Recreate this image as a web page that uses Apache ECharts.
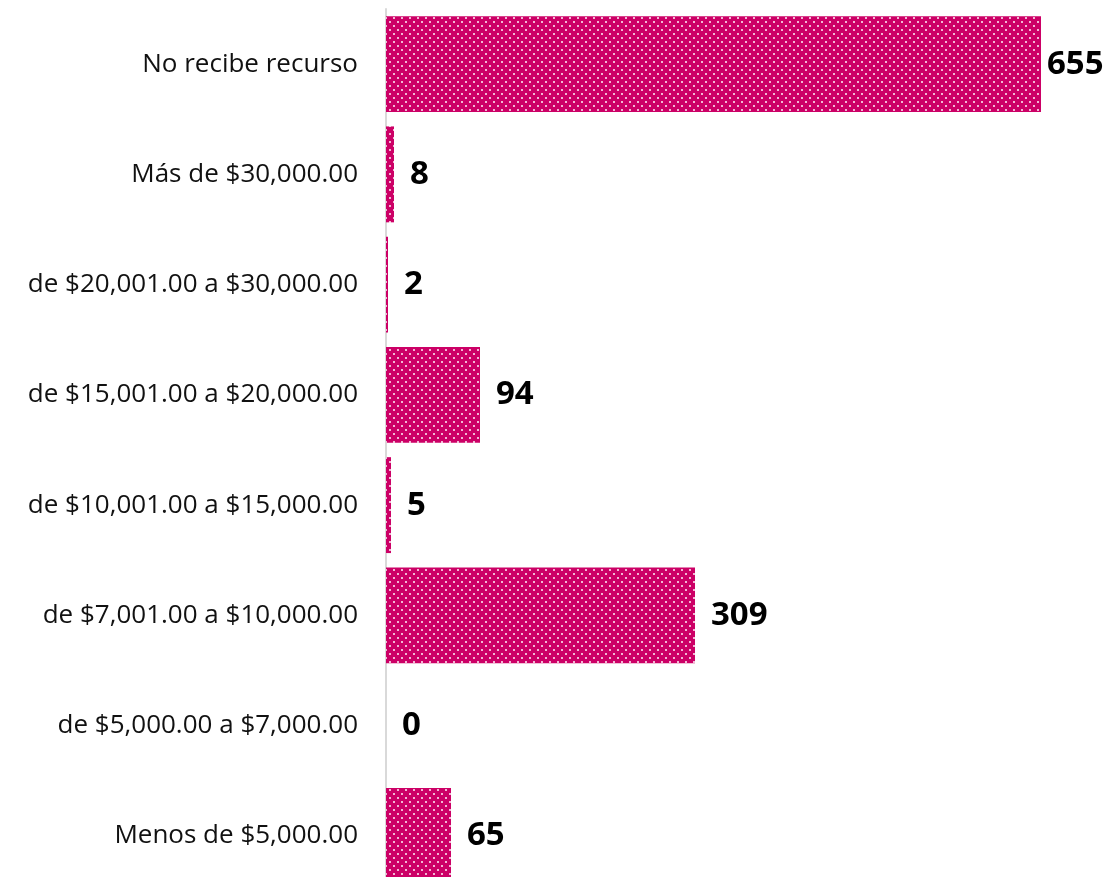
<!DOCTYPE html>
<html>
<head>
<meta charset="utf-8">
<script src="https://cdn.jsdelivr.net/npm/echarts@6/dist/echarts.min.js"></script>
<style>
  html, body { margin: 0; padding: 0; background: #fff; }
  #chart { width: 1111px; height: 877px; }
</style>
</head>
<body>
<div id="chart"></div>
<script>
// categories top to bottom
const categories = [
  'No recibe recurso',
  'Más de $30,000.00',
  'de $20,001.00 a $30,000.00',
  'de $15,001.00 a $20,000.00',
  'de $10,001.00 a $15,000.00',
  'de $7,001.00 a $10,000.00',
  'de $5,000.00 a $7,000.00',
  'Menos de $5,000.00'
]
const values = [655, 8, 2, 94, 5, 309, 0, 65]

// dotted fill like the Excel pattern
function dotPattern() {
  const c = document.createElement('canvas')
  c.width = 8; c.height = 8
  const ctx = c.getContext('2d')
  ctx.fillStyle = '#cc0066'
  ctx.fillRect(0, 0, 8, 8)
  ctx.fillStyle = '#f2b6d4'
  ctx.fillRect(1, 1, 2, 2)
  ctx.fillRect(5, 5, 2, 2)
  return c
}

const chart = echarts.init(document.getElementById('chart'))
const pattern = { image: dotPattern(), repeat: 'repeat' }

chart.setOption({
  animation: false,
  grid: { left: 386, width: 700, top: 9, height: 882, outerBoundsMode: 'none', containLabel: false },
  xAxis: {
    type: 'value',
    min: 0, max: 700,
    show: false
  },
  yAxis: {
    type: 'category',
    data: categories,
    inverse: true,
    axisLine: { show: true, lineStyle: { color: '#d9d9d9', width: 2 } },
    axisTick: { show: false },
    axisLabel: {
      margin: 28,
      color: '#111',
      fontFamily: 'Open Sans',
      fontSize: 26
    }
  },
  series: [{
    type: 'bar',
    data: values.map((v, i) => ({
      value: v,
      label: i === 0 ? { distance: 6 } : undefined
    })),
    barCategoryGap: '13%',
    itemStyle: { color: pattern },
    label: {
      show: true,
      position: 'right',
      distance: 16,
      color: '#000',
      fontFamily: 'Open Sans',
      fontWeight: 'bold',
      fontSize: 33
    }
  }]
})
</script>
</body>
</html>
